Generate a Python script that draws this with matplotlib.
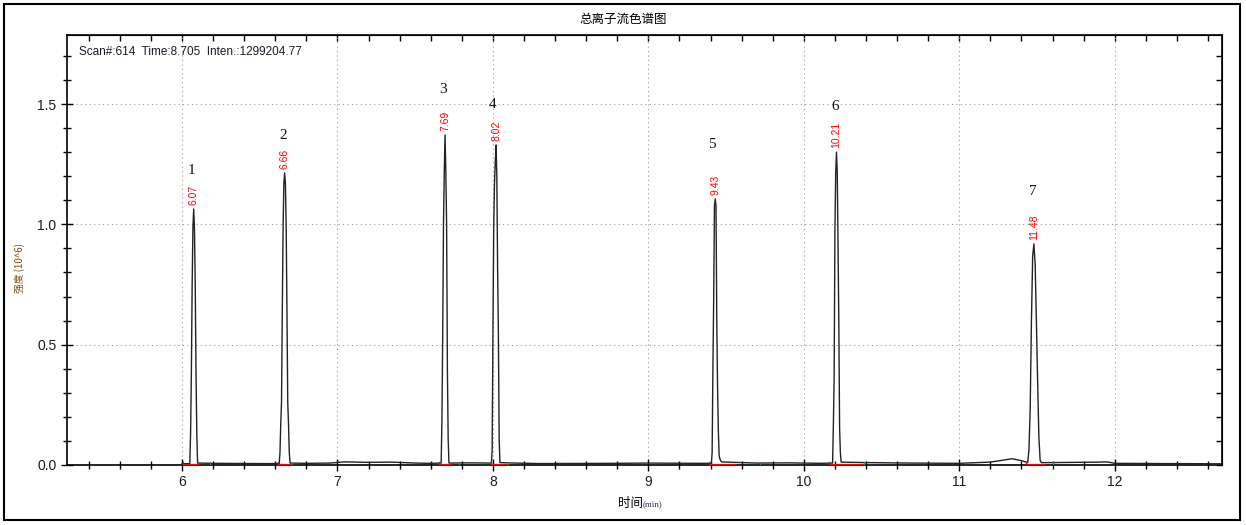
import numpy as np
import matplotlib.pyplot as plt
from matplotlib.ticker import MultipleLocator, NullFormatter
from matplotlib.patches import Rectangle

cjk = ['Noto Sans CJK SC', 'DejaVu Sans']
plt.rcParams['font.family'] = ['Liberation Sans', 'DejaVu Sans']

# peak data: retention time, first sample time, sample step, sampled intensities (10^6)
rt_labels = ['6.07', '6.66', '7.69', '8.02', '9.43', '10.21', '11.48']
peak_no = ['1', '2', '3', '4', '5', '6', '7']
peak_t0 = [6.05, 6.625, 7.667, 7.99, 9.405, 10.185, 11.44]
peak_dt = [0.005, 0.005, 0.005, 0.005, 0.005, 0.005, 0.008]
peak_vals = [
    [0.006, 0.13, 0.38, 0.74, 0.985, 1.064, 0.98, 0.74, 0.38, 0.13, 0.008],
    [0.006, 0.05, 0.17, 0.26, 0.64, 0.985, 1.17, 1.214, 1.17, 0.985, 0.64, 0.26, 0.17, 0.05, 0.008],
    [0.008, 0.195, 0.55, 1.0, 1.22, 1.372, 1.22, 1.0, 0.40, 0.11, 0.008],
    [0.008, 0.06, 0.55, 0.99, 1.17, 1.256, 1.33, 1.2, 0.82, 0.55, 0.11, 0.01],
    [0.007, 0.05, 0.395, 0.686, 1.077, 1.106, 1.077, 0.60, 0.32, 0.145, 0.04, 0.025, 0.018, 0.013],
    [0.008, 0.166, 0.366, 0.977, 1.214, 1.30, 1.214, 0.915, 0.595, 0.154, 0.05, 0.012],
    [0.01, 0.062, 0.229, 0.595, 0.869, 0.919, 0.836, 0.595, 0.345, 0.116, 0.02, 0.01],
]
# peak number label positions
num_x = [6.06, 6.65, 7.68, 8.0, 9.41, 10.2, 11.47]
num_y = [1.225, 1.37, 1.56, 1.50, 1.33, 1.49, 1.135]

# baseline between peaks
base_t = [6.0, 6.2, 6.5, 6.8, 6.95, 7.05, 7.2, 7.35, 7.5, 7.6, 7.85, 8.15, 8.3, 8.8, 9.0, 9.3,
          9.55, 9.7, 9.9, 10.1, 10.4, 10.7, 11.0, 11.2, 11.28, 11.34, 11.4, 11.6, 11.9,
          11.95, 12.0, 12.3, 12.69]
base_v = [0.005, 0.007, 0.006, 0.007, 0.008, 0.013, 0.011, 0.012, 0.008, 0.007, 0.009, 0.008,
          0.006, 0.007, 0.008, 0.007, 0.011, 0.008, 0.009, 0.007, 0.01, 0.008, 0.007, 0.012,
          0.02, 0.026, 0.018, 0.01, 0.012, 0.013, 0.007, 0.006, 0.005]

# integration marks (start, end, end tick)
int_start = [6.005, 6.62, 7.65, 7.985, 9.39, 10.16, 11.43]
int_end = [6.1, 6.705, 7.73, 8.09, 9.56, 10.39, 11.55]
int_tick = [6.18, 6.705, 7.78, 8.1, 9.72, 10.39, 11.6]

# build trace
pt_t, pt_v = [], []
spans = []
for t0, dt, vals in zip(peak_t0, peak_dt, peak_vals):
    ts = [t0 + i * dt for i in range(len(vals))]
    spans.append((ts[0], ts[-1]))
    pt_t += ts
    pt_v += vals
for t, v in zip(base_t, base_v):
    if not any(a - 0.01 <= t <= b + 0.01 for a, b in spans):
        pt_t.append(t)
        pt_v.append(v)
order = np.argsort(pt_t)
trace_t = np.array(pt_t)[order]
trace_v = np.array(pt_v)[order]

fig = plt.figure(figsize=(12.46, 5.25), dpi=100)
fig.patches.append(Rectangle((4 / 1246, 5 / 525), 1236 / 1246, 516 / 525, transform=fig.transFigure,
                             fill=False, edgecolor='black', linewidth=1.5))
ax = fig.add_axes([67 / 1246, 60 / 525, 1155 / 1246, 430 / 525])

ax.plot(trace_t, trace_v, color='#222222', lw=1.0, zorder=3)

for s, e, tk in zip(int_start, int_end, int_tick):
    ax.plot([s, e], [0.004, 0.004], color='red', lw=0.9, zorder=4)
    ax.plot([s, s], [-0.004, 0.012], color='red', lw=0.9, zorder=4)
    ax.plot([tk, tk], [-0.004, 0.012], color='#2a9d2a', lw=0.9, zorder=4)

for lab, t0, dt, vals in zip(rt_labels, peak_t0, peak_dt, peak_vals):
    k = int(np.argmax(vals))
    ax.annotate(lab, (t0 + k * dt, vals[k]), xytext=(0, 3), textcoords='offset points',
                rotation=90, ha='center', va='bottom', color='red', fontsize=7.5)

for n, x, y in zip(peak_no, num_x, num_y):
    ax.text(x, y, n, ha='center', va='center', fontsize=11, family='Liberation Serif', color='#111111')

ax.set_xlim(5.26, 12.69)
ax.set_ylim(0, 1.787)
ax.xaxis.set_major_locator(MultipleLocator(1))
ax.xaxis.set_minor_locator(MultipleLocator(0.2))
ax.yaxis.set_major_locator(MultipleLocator(0.5))
ax.yaxis.set_minor_locator(MultipleLocator(0.1))
ax.yaxis.set_major_formatter(plt.FormatStrFormatter('%.1f'))
ax.tick_params(axis='both', which='both', direction='inout',
               labelsize=10, labelcolor='#1a1a2a', width=1.0)
ax.tick_params(axis='both', which='major', length=9, pad=3)
ax.tick_params(axis='both', which='minor', length=6)
ax.grid(True, which='major', linestyle=(0, (1, 3)), color='#999999', lw=0.8)
for sp in ax.spines.values():
    sp.set_linewidth(1.2)

# inward ticks on top and right
top = ax.secondary_xaxis('top')
top.xaxis.set_major_locator(MultipleLocator(1))
top.xaxis.set_minor_locator(MultipleLocator(0.2))
top.xaxis.set_major_formatter(NullFormatter())
top.tick_params(which='both', direction='in', length=4, width=1.0)
right = ax.secondary_yaxis('right')
right.yaxis.set_major_locator(MultipleLocator(0.5))
right.yaxis.set_minor_locator(MultipleLocator(0.1))
right.yaxis.set_major_formatter(NullFormatter())
right.tick_params(which='both', direction='in', length=4, width=1.0)

ax.text(0.01, 0.975, 'Scan#:614  Time:8.705  Inten.:1299204.77', transform=ax.transAxes,
        fontsize=8.5, va='top', color='#1a1a2a')

fig.text(0.5, 1 - 19 / 525, '总离子流色谱图', ha='center', va='center', fontsize=9, family=cjk)
fig.text(20 / 1246, 1 - 268 / 525, '强度 (10^6)', rotation=90, ha='center', va='center',
         fontsize=7, family=cjk, color='#7a4a10')
fig.text(643 / 1246, 1 - 503 / 525, '时间', ha='right', va='center', fontsize=9, family=cjk)
fig.text(643 / 1246, 1 - 504 / 525, '(min)', ha='left', va='center', fontsize=6.5,
         family='Liberation Serif', color='#333355')

fig.savefig('out.png', dpi=100)
